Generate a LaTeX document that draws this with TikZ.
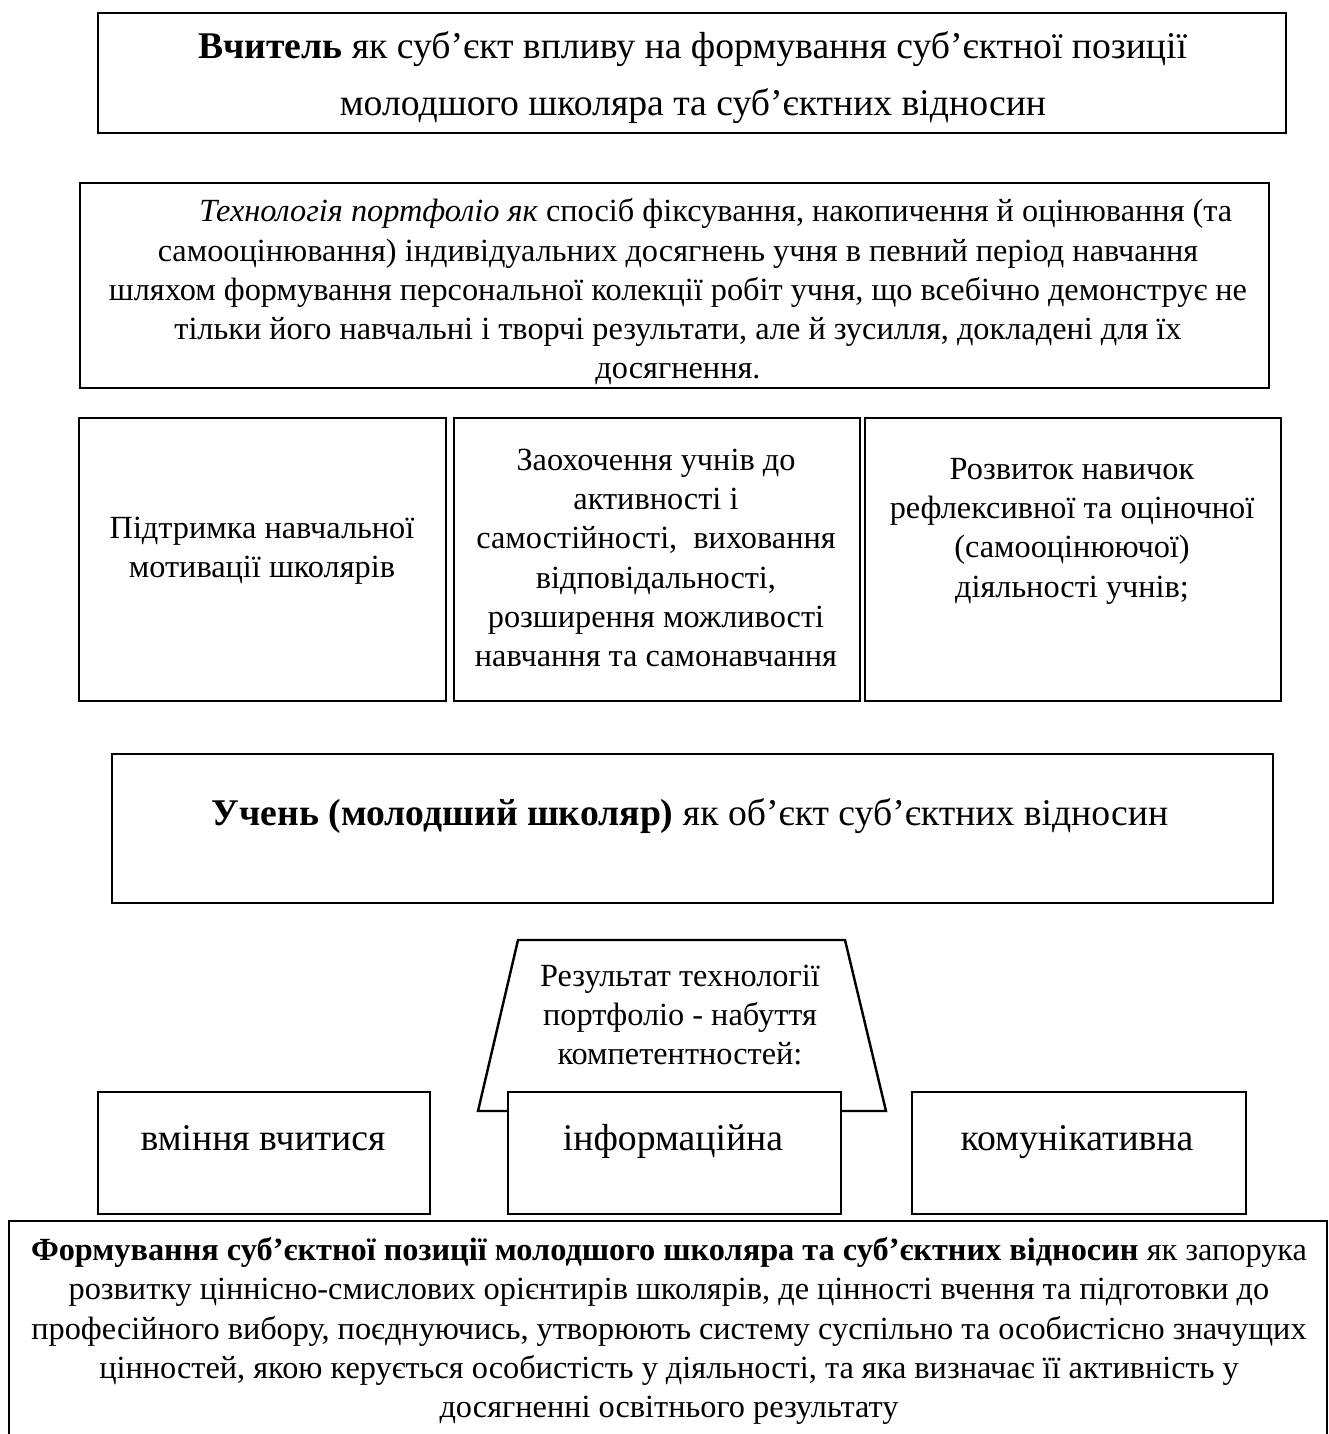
\documentclass[tikz,border=0pt]{standalone}
\usepackage{fontspec}
\setmainfont{Liberation Serif}
\usetikzlibrary{positioning}

\tikzset{
  box/.style={draw, line width=1pt, fill=white, inner sep=0pt, anchor=north west},
  txt/.style={align=center, inner sep=0pt, font=\fontsize{13.25}{16.1}\selectfont},
  bigtxt/.style={txt, font=\fontsize{15.45}{23.4}\selectfont},
}

\begin{document}
\begin{tikzpicture}[x=0.41pt, y=-0.41pt]
\useasboundingbox (0,0) rectangle (1329,1434);
\clip (0,0) rectangle (1329,1434);

% teacher
\node[box, minimum width=1188*0.41pt, minimum height=120*0.41pt] (teacher) at (97,12) {};
\node[bigtxt] (teacherText) at (693,78)
  {\textbf{Вчитель} як суб’єкт впливу на формування суб’єктної позиції\\
   молодшого школяра та суб’єктних відносин};

% portfolio technology
\node[box, minimum width=1189*0.41pt, minimum height=205*0.41pt] (portfolio) at (79,182) {};
\node[txt] (portfolioText) at (678,292)
  {\hspace*{31pt}\textit{Технологія портфоліо як} спосіб фіксування, накопичення й оцінювання (та\\
   самооцінювання) індивідуальних досягнень учня в певний період навчання\\
   шляхом формування персональної колекції робіт учня, що всебічно демонструє не\\
   тільки його навчальні і творчі результати, але й зусилля, докладені для їх\\
   досягнення.};

% three tasks
\node[box, minimum width=367*0.41pt, minimum height=283*0.41pt] (support) at (78,417) {};
\node[box, minimum width=406*0.41pt, minimum height=283*0.41pt] (encourage) at (453,417) {};
\node[box, minimum width=416*0.41pt, minimum height=283*0.41pt] (develop) at (864,417) {};
\node[txt] (supportText) at (262,551) {Підтримка навчальної\\мотивації школярів};
\node[txt] (encourageText) at (656,558)
  {Заохочення учнів до\\активності і\\самостійності, \ виховання\\відповідальності,\\розширення можливості\\навчання та самонавчання};
\node[txt] (developText) at (1072,531)
  {Розвиток навичок\\рефлексивної та оціночної\\(самооцінюючої)\\діяльності учнів;};

% pupil
\node[box, minimum width=1161*0.41pt, minimum height=149*0.41pt] (pupil) at (111,753) {};
\node[bigtxt, anchor=base] (pupilText) at (690,825)
  {\textbf{Учень (молодший школяр)} як об’єкт суб’єктних відносин};

% result
\draw[line width=1pt, fill=white] (518,940) -- (845,940) -- (886,1111) -- (478,1111) -- cycle;
\node[txt] (resultText) at (680,1015)
  {Результат технології\\портфоліо - набуття\\компетентностей:};

% competences
\node[box, minimum width=332*0.41pt, minimum height=122*0.41pt] (learn) at (97,1091) {};
\node[box, minimum width=333*0.41pt, minimum height=122*0.41pt] (inform) at (507,1091) {};
\node[box, minimum width=334*0.41pt, minimum height=122*0.41pt] (communic) at (911,1091) {};
\node[bigtxt, anchor=base] (learnText) at (263,1150) {вміння вчитися};
\node[bigtxt, anchor=base] (informText) at (673,1150) {інформаційна};
\node[bigtxt, anchor=base] (communicText) at (1077,1150) {комунікативна};

% formation
\node[box, minimum width=1318*0.41pt, minimum height=260*0.41pt] (formation) at (8,1220) {};
\node[txt] (formationText) at (669,1331)
  {\textbf{Формування суб’єктної позиції молодшого школяра та суб’єктних відносин} як запорука\\
   розвитку ціннісно-смислових орієнтирів школярів, де цінності вчення та підготовки до\\
   професійного вибору, поєднуючись, утворюють систему суспільно та особистісно значущих\\
   цінностей, якою керується особистість у діяльності, та яка визначає її активність у\\
   досягненні освітнього результату};
\end{tikzpicture}
\end{document}
